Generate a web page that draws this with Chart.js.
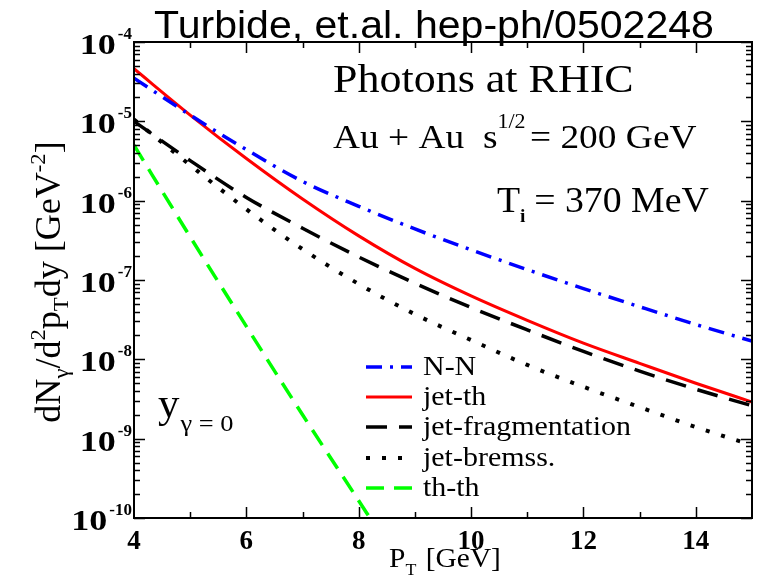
<!DOCTYPE html>
<html>
<head>
<meta charset="utf-8">
<script src="https://cdn.jsdelivr.net/npm/chart.js@4.4.1/dist/chart.umd.min.js"></script>
<style>
  html, body { margin: 0; padding: 0; background: #fff; }
  canvas { display: block; }
</style>
</head>
<body>
<canvas id="chart" width="757" height="578"></canvas>
<script>
// values (dN/d2pT dy, GeV^-2)
const pT = [4, 5, 6, 7, 8, 9, 10, 11, 12, 13, 14, 15];
const nn = [3.5e-5, 1.2e-5, 4.4e-6, 1.75e-6, 8.5e-7, 4.4e-7, 2.4e-7, 1.35e-7, 7.8e-8, 4.6e-8, 2.75e-8, 1.7e-8];
const jetTh = [4.6e-5, 1.2e-5, 3.4e-6, 1.05e-6, 3.6e-7, 1.4e-7, 6.3e-8, 3.1e-8, 1.6e-8, 8.9e-9, 5.0e-9, 2.9e-9];
const jetFrag = [1.0e-5, 3.2e-6, 1.1e-6, 4.5e-7, 1.95e-7, 9.1e-8, 4.5e-8, 2.35e-8, 1.26e-8, 7.1e-9, 4.2e-9, 2.6e-9];
const jetBrems = [1.05e-5, 2.8e-6, 7.8e-7, 2.45e-7, 8.9e-8, 3.7e-8, 1.75e-8, 8.5e-9, 4.5e-9, 2.5e-9, 1.4e-9, 8.3e-10];
const thThPT = [4, 5, 6, 7, 8, 8.2];
const thTh = [5e-6, 3.5e-7, 2.6e-8, 2.0e-9, 1.65e-10, 1.0e-10];

const seriesNames = ['N-N', 'jet-th', 'jet-fragmentation', 'jet-bremss.', 'th-th'];
const xTickLabels = [4, 6, 8, 10, 12, 14];
const yDecades = [-10, -9, -8, -7, -6, -5, -4];

const SERIF = '"Liberation Serif", "Times New Roman", serif';
const SANS = '"Liberation Sans", Arial, sans-serif';

function pts(xs, ys) {
  return xs.map((x, i) => ({ x: x, y: ys[i] }));
}

// draw a run of text pieces (for sub/superscripts); returns width
function rich(ctx, x, y, segs, sx, align) {
  sx = sx || 1;
  let w = 0;
  segs.forEach(s => {
    ctx.font = (s.b ? 'bold ' : '') + s.s + 'px ' + (s.f || SERIF);
    w += ctx.measureText(s.t).width + (s.g || 0);
  });
  ctx.save();
  ctx.translate(x, y);
  ctx.scale(sx, 1);
  let cx = 0;
  if (align === 'center') cx = -w / 2;
  if (align === 'right') cx = -w;
  ctx.textAlign = 'left';
  ctx.textBaseline = 'alphabetic';
  segs.forEach(s => {
    ctx.font = (s.b ? 'bold ' : '') + s.s + 'px ' + (s.f || SERIF);
    ctx.fillText(s.t, cx, s.dy || 0);
    cx += ctx.measureText(s.t).width + (s.g || 0);
  });
  ctx.restore();
  return w * sx;
}

const decor = {
  id: 'decor',
  afterDraw(chart) {
    const ctx = chart.ctx;
    const a = chart.chartArea;
    const xs = chart.scales.x, ys = chart.scales.y;
    ctx.save();
    ctx.fillStyle = '#000';
    ctx.strokeStyle = '#000';

    // frame
    ctx.lineWidth = 2;
    ctx.strokeRect(a.left, a.top, a.right - a.left, a.bottom - a.top);

    // x ticks, inside, top and bottom
    ctx.lineWidth = 1.5;
    for (let v = 5; v < 15; v++) {
      const px = Math.round(xs.getPixelForValue(v)) + 0.5;
      const len = v % 2 === 0 ? 11 : 6;
      ctx.beginPath();
      ctx.moveTo(px, a.bottom); ctx.lineTo(px, a.bottom - len);
      ctx.moveTo(px, a.top); ctx.lineTo(px, a.top + len);
      ctx.stroke();
    }
    // y ticks, log minors
    yDecades.forEach(d => {
      for (let k = 1; k <= 9; k++) {
        if (d === -4 && k > 1) break;
        const py = Math.round(ys.getPixelForValue(k * Math.pow(10, d))) + 0.5;
        const len = k === 1 ? 11 : 6;
        ctx.beginPath();
        ctx.moveTo(a.left, py); ctx.lineTo(a.left + len, py);
        ctx.moveTo(a.right, py); ctx.lineTo(a.right - len, py);
        ctx.stroke();
      }
    });

    // x tick labels
    ctx.font = 'bold 27px ' + SERIF;
    ctx.textAlign = 'center';
    ctx.textBaseline = 'alphabetic';
    xTickLabels.forEach(v => {
      ctx.fillText(String(v), xs.getPixelForValue(v), 549);
    });

    // y tick labels 10^d
    yDecades.forEach(d => {
      const py = ys.getPixelForValue(Math.pow(10, d));
      ctx.font = 'bold 17px ' + SERIF;
      ctx.textAlign = 'right';
      const ex = String(d);
      const ew = ctx.measureText(ex).width;
      ctx.fillText(ex, a.left - 2, py - 3);
      rich(ctx, a.left - 4 - ew, py + 12, [{ t: '10', s: 30, b: true }], 1.2, 'right');
    });

    // x axis title
    rich(ctx, 445, 567, [
      { t: 'P', s: 28 },
      { t: 'T', s: 17, dy: 8, g: 9 },
      { t: '[GeV]', s: 28 }
    ], 1.05, 'center');

    // y axis title (rotated)
    ctx.save();
    ctx.translate(60, 282);
    ctx.rotate(-Math.PI / 2);
    rich(ctx, 0, 0, [
      { t: 'dN', s: 35 },
      { t: '\u03b3', s: 22, dy: 8 },
      { t: '/d', s: 35 },
      { t: '2', s: 22, dy: -15 },
      { t: 'p', s: 35 },
      { t: 'T', s: 22, dy: 8 },
      { t: 'dy [GeV', s: 35 },
      { t: '-2', s: 22, dy: -15 },
      { t: ']', s: 35 }
    ], 1.03, 'center');
    ctx.restore();

    // annotations
    rich(ctx, 333, 92, [{ t: 'Photons at RHIC', s: 40 }], 1.1);
    rich(ctx, 333, 148, [
      { t: 'Au + Au  s', s: 34 },
      { t: '1/2', s: 20, dy: -20, g: 4 },
      { t: '= 200 GeV', s: 34 }
    ], 1.1);
    rich(ctx, 497, 212, [
      { t: 'T', s: 35 },
      { t: 'i', s: 18, dy: 10, b: true, g: 8 },
      { t: '= 370 MeV', s: 35 }
    ], 1.08);
    rich(ctx, 158, 417, [
      { t: 'y', s: 39, g: 1 },
      { t: '\u03b3 = 0', s: 24, dy: 14 }
    ], 1.1);

    // legend
    const rows = [367, 397, 427, 458, 488];
    chart.data.datasets.forEach((ds, i) => {
      const y = rows[i];
      ctx.save();
      ctx.strokeStyle = ds.borderColor;
      ctx.lineWidth = ds.borderWidth;
      ctx.setLineDash(ds.borderDash || []);
      ctx.beginPath();
      ctx.moveTo(366, y); ctx.lineTo(412, y);
      ctx.stroke();
      ctx.restore();
      rich(ctx, 423, y + 8, [{ t: ds.label, s: 28 }], 1.07);
    });

    // title
    rich(ctx, 434, 38, [{ t: 'Turbide, et.al. hep-ph/0502248', s: 38, f: SANS }], 1.08, 'center');

    ctx.restore();
  }
};

new Chart(document.getElementById('chart'), {
  type: 'line',
  data: {
    datasets: [
      { label: seriesNames[0], data: pts(pT, nn), borderColor: '#0000ff', borderWidth: 3.5, borderDash: [16, 8, 3, 8] },
      { label: seriesNames[1], data: pts(pT, jetTh), borderColor: '#ff0000', borderWidth: 3 },
      { label: seriesNames[2], data: pts(pT, jetFrag), borderColor: '#000000', borderWidth: 3.5, borderDash: [21, 12] },
      { label: seriesNames[3], data: pts(pT, jetBrems), borderColor: '#000000', borderWidth: 4, borderDash: [4, 12] },
      { label: seriesNames[4], data: pts(thThPT, thTh), borderColor: '#00ff00', borderWidth: 3.5, borderDash: [18, 10] }
    ]
  },
  options: {
    responsive: false,
    animation: false,
    devicePixelRatio: 1,
    layout: { padding: { left: 134, right: 5, top: 42, bottom: 60 } },
    elements: {
      point: { radius: 0 },
      line: { cubicInterpolationMode: 'monotone', fill: false }
    },
    plugins: { legend: { display: false }, tooltip: { enabled: false } },
    scales: {
      x: { type: 'linear', min: 4, max: 15, display: false },
      y: { type: 'logarithmic', min: 1e-10, max: 1e-4, display: false }
    }
  },
  plugins: [decor]
});
</script>
</body>
</html>
